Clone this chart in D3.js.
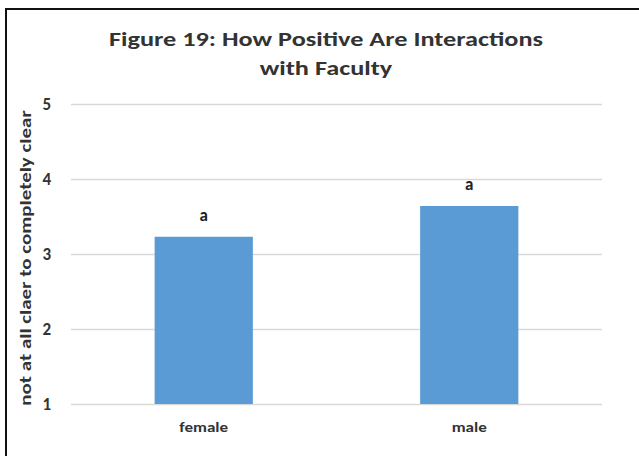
<!DOCTYPE html>
<html>
<head>
<meta charset="utf-8">
<script src="https://cdn.jsdelivr.net/npm/d3@7"></script>
<style>
  body { margin: 0; background: #fff; }
  svg { display: block; font-family: Carlito, Calibri, Lato, sans-serif; }
</style>
</head>
<body>
<div id="chart"></div>
<script>
// Chart data
const categories = ['female', 'male'];
const values = [3.23, 3.64];
const letters = ['a', 'a'];
const yTicks = [1, 2, 3, 4, 5];
const titleLines = ['Figure 19: How Positive Are Interactions', 'with Faculty'];
const yLabel = 'not at all claer to completely clear';

const W = 639, H = 456;
const margin = { top: 104, right: 37, bottom: 52, left: 71 };
const width = W - margin.left - margin.right;
const height = H - margin.top - margin.bottom;
const FONT = 'Carlito, Calibri, Lato, sans-serif';

// the scanned chart has its text a bit wider than normal, so stretch it
function stretch(sel, factor) {
    sel.each(function() {
        const len = this.getComputedTextLength();
        d3.select(this)
            .attr('textLength', len * factor)
            .attr('lengthAdjust', 'spacingAndGlyphs');
    });
}

const svg = d3.select('#chart')
    .append('svg')
    .attr('width', W)
    .attr('height', H);

// frame (top and left edges only, as in the scan)
svg.append('path')
    .attr('d', `M6,${H} L6,9 L${W},9`)
    .attr('fill', 'none')
    .attr('stroke', '#111')
    .attr('stroke-width', 2);

// title
svg.selectAll('.title')
    .data(titleLines)
    .enter()
    .append('text')
    .attr('class', 'title')
    .attr('x', 326)
    .attr('y', (d, i) => 46 + i * 29)
    .attr('text-anchor', 'middle')
    .attr('font-size', 21)
    .attr('font-weight', 'bold')
    .attr('fill', '#333')
    .text(d => d)
    .call(stretch, 1.25);

const g = svg.append('g')
    .attr('transform', `translate(${margin.left},${margin.top})`);

const x = d3.scaleBand()
    .domain(categories)
    .range([0, width]);

const y = d3.scaleLinear()
    .domain([1, 5])
    .range([height, 0]);

// gridlines
g.append('g')
    .call(d3.axisLeft(y).tickValues(yTicks).tickSize(-width).tickFormat(''))
    .call(s => s.select('.domain').remove())
    .call(s => s.selectAll('line').attr('stroke', '#d9d9d9').attr('stroke-width', 1.3));

// y tick labels
g.append('g')
    .call(d3.axisLeft(y).tickValues(yTicks).tickSize(0).tickPadding(20).tickFormat(d3.format('d')))
    .call(s => s.select('.domain').remove())
    .call(s => s.selectAll('text')
        .attr('font-size', 17)
        .attr('font-weight', 'bold')
        .attr('fill', '#333')
        .attr('font-family', FONT));

// x tick labels
g.append('g')
    .attr('transform', `translate(0,${height})`)
    .call(d3.axisBottom(x).tickSize(0).tickPadding(18))
    .call(s => s.select('.domain').remove())
    .call(s => s.selectAll('text')
        .attr('font-size', 14)
        .attr('font-weight', 'bold')
        .attr('fill', '#333')
        .attr('font-family', FONT)
        .call(stretch, 1.22));

const barW = x.bandwidth() * 0.37;

// bars
g.selectAll('.bar')
    .data(values)
    .enter()
    .append('rect')
    .attr('class', 'bar')
    .attr('x', (d, i) => x(categories[i]) + (x.bandwidth() - barW) / 2)
    .attr('y', d => y(d))
    .attr('width', barW)
    .attr('height', d => height - y(d))
    .attr('fill', '#5b9bd5');

// significance letters
g.selectAll('.letter')
    .data(values)
    .enter()
    .append('text')
    .attr('class', 'letter')
    .attr('x', (d, i) => x(categories[i]) + x.bandwidth() / 2)
    .attr('y', d => y(d) - 16)
    .attr('text-anchor', 'middle')
    .attr('font-size', 17)
    .attr('font-weight', 'bold')
    .attr('fill', '#222')
    .text((d, i) => letters[i]);

// y axis label
svg.append('text')
    .attr('transform', `translate(31,${margin.top + height / 2 + 4}) rotate(-90)`)
    .attr('text-anchor', 'middle')
    .attr('font-size', 16)
    .attr('font-weight', 'bold')
    .attr('fill', '#333')
    .text(yLabel)
    .call(stretch, 1.31);
</script>
</body>
</html>
